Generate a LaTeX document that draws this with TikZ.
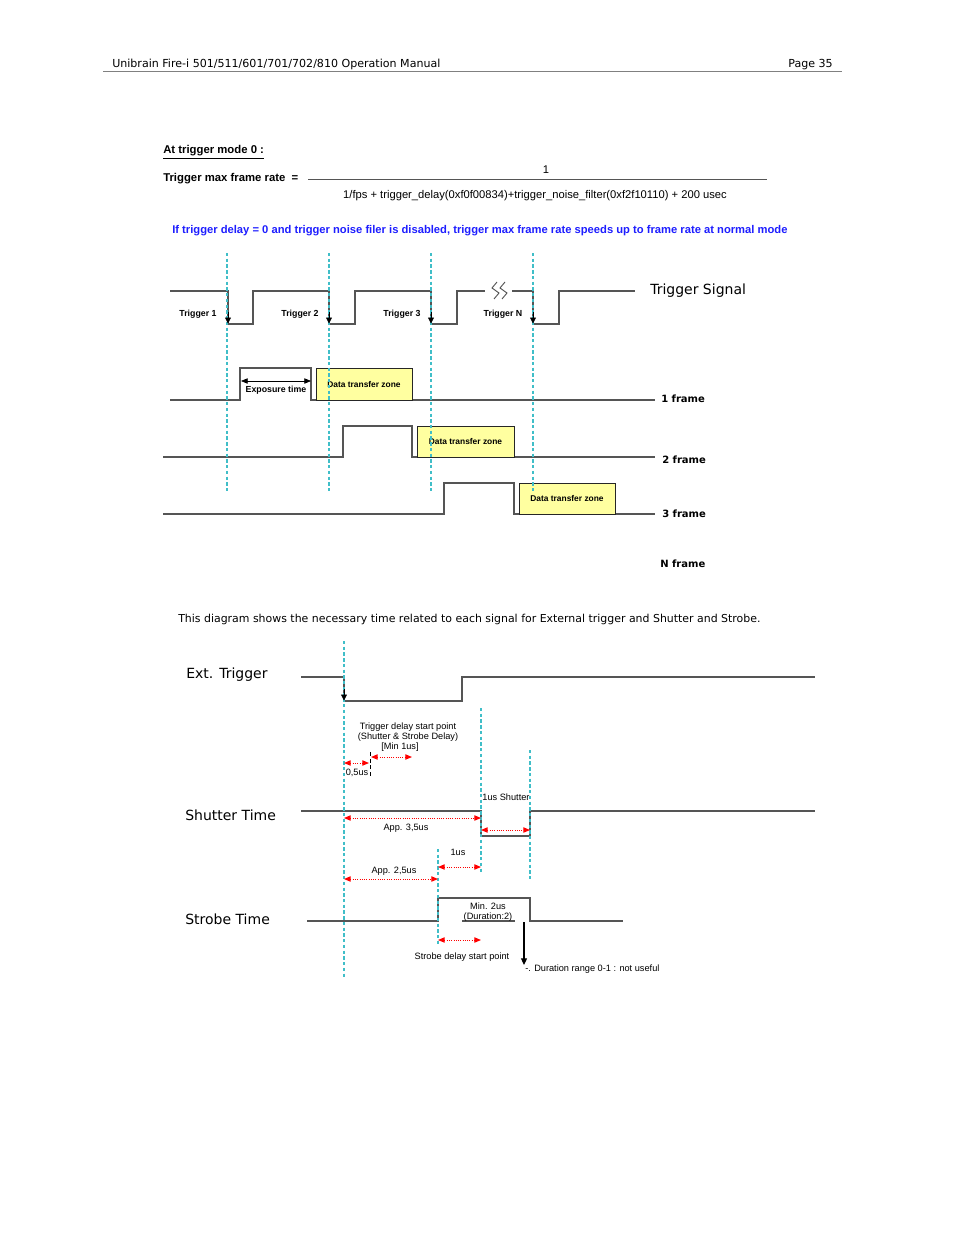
\documentclass[tikz,border=0pt]{standalone}
\usepackage{fontspec}
\setmainfont{Liberation Sans}
\newfontfamily\dvs{DejaVu Sans}
\usetikzlibrary{arrows.meta}
\definecolor{cyanD}{RGB}{64,190,200}
\definecolor{zoneY}{RGB}{255,255,160}
\definecolor{blueT}{RGB}{30,30,255}
\definecolor{sigG}{RGB}{85,85,85}
\begin{document}
\begin{tikzpicture}[x=0.75pt,y=-0.75pt,
  vdash/.style={cyanD, dash pattern=on 2.5pt off 1.8pt, line width=0.9pt},
  sig/.style={sigG, line width=0.9pt},
  tip/.style={black, line width=0.6pt, -{Triangle[width=4.5pt,length=4.5pt]}},
  redarr/.style={red, densely dotted, line width=0.7pt, {Triangle[width=4pt,length=5pt]}-{Triangle[width=4pt,length=5pt]}},
  zone/.style={draw=black!85, fill=zoneY, line width=0.6pt, inner sep=0pt, font=\fontsize{6.3}{7}\selectfont\bfseries},
  hdr/.style={inner sep=0pt, font=\dvs\fontsize{8.3}{9.6}\selectfont},
  frm/.style={inner sep=0pt, anchor=west, font=\dvs\fontsize{7.5}{8}\selectfont\bfseries},
  big/.style={inner sep=0pt, anchor=west, font=\dvs\fontsize{10.5}{12}\selectfont},
  trg/.style={inner sep=0pt, font=\fontsize{6.6}{7}\selectfont\bfseries},
  sml/.style={inner sep=0pt, font=\fontsize{6.9}{7.5}\selectfont, align=center},
  frml/.style={inner sep=0pt, font=\fontsize{8.4}{9}\selectfont}]
\useasboundingbox (0,0) rectangle (954,1235);
\fill[white] (0,0) rectangle (954,1235);

% header
\node[hdr, anchor=west] (htitle) at (112,64.5) {Unibrain Fire-i 501/511/601/701/702/810 Operation Manual};
\node[hdr, anchor=east] (hpage) at (833,64.5) {Page 35};
\draw[gray, line width=0.6pt] (103,71) -- (842,71);

% formula
\node[frml, anchor=west, font=\fontsize{8.5}{9}\selectfont\bfseries] (mode) at (163,152) {\underline{At trigger mode 0 :}};
\node[frml, anchor=west, font=\fontsize{8.5}{9}\selectfont\bfseries] (tmax) at (163,179) {Trigger max frame rate~~=};
\draw[sigG, line width=0.7pt] (308,179) -- (767,179);
\node[frml] (num) at (546,170) {1};
\node[frml] (den) at (535,196) {1/fps + trigger\_delay(0xf0f00834)+trigger\_noise\_filter(0xf2f10110) + 200 usec};
\node[inner sep=0pt, anchor=west, text=blueT, font=\fontsize{8.4}{9}\selectfont\bfseries] (note) at (172,231) {If trigger delay = 0 and trigger noise filer is disabled, trigger max frame rate speeds up to frame rate at normal mode};

% trigger signal
\draw[sig] (170,291) -- (228,291) -- (228,324) -- (253,324) -- (253,291) -- (329,291) -- (329,324) -- (355,324) -- (355,291) -- (431,291) -- (431,324) -- (457,324) -- (457,291) -- (485,291);
\draw[sig] (512,291) -- (533,291) -- (533,324) -- (559,324) -- (559,291) -- (635,291);
\draw[sigG, line width=0.7pt] (497,282) -- (492,288) -- (499,293) -- (494,299);
\draw[sigG, line width=0.7pt] (505,282) -- (500,288) -- (507,293) -- (502,299);
\node[big] (tsig) at (650,290.5) {Trigger Signal};
\node[trg] (t1) at (198,314.5) {Trigger 1};
\node[trg] (t2) at (300,314.5) {Trigger 2};
\node[trg] (t3) at (402,314.5) {Trigger 3};
\node[trg] (tn) at (503,314.5) {Trigger N};

% frames
\draw[sig] (170,400) -- (240,400) -- (240,368) -- (311,368) -- (311,400) -- (655,400);
\draw[sig] (163,457) -- (343,457) -- (343,426) -- (412,426) -- (412,457) -- (655,457);
\draw[sig] (163,514) -- (444,514) -- (444,483) -- (514,483) -- (514,514) -- (655,514);
\node[zone, minimum width=72pt, minimum height=24pt] (z1) at (364,384) {Data transfer zone};
\node[zone, minimum width=72.75pt, minimum height=23.25pt] (z2) at (465.5,441.5) {Data transfer zone};
\node[zone, minimum width=72pt, minimum height=23.25pt] (z3) at (567,498.5) {Data transfer zone};
\coordinate (e1) at (241,381);
\coordinate (e2) at (311,381);
\draw[black, line width=0.6pt, {Triangle[width=4pt,length=5pt]}-{Triangle[width=4pt,length=5pt]}] (e1) -- (e2);
\node[trg] (exp) at (276,390.5) {Exposure time};
\node[frm] (f1) at (661,398.5) {1 frame};
\node[frm] (f2) at (662,459.5) {2 frame};
\node[frm] (f3) at (662,513.5) {3 frame};
\node[frm] (fn) at (660,563.5) {N frame};

% dashed verticals (top)
\foreach \x in {227,329,431,533} \draw[vdash] (\x,253) -- (\x,493);
\foreach \x in {228,329,431,533} \draw[tip] (\x,312) -- (\x,323.5);

% caption
\node[hdr, anchor=west, font=\dvs\fontsize{8.2}{9}\selectfont] (cap) at (178,619) {This diagram shows the necessary time related to each signal for External trigger and Shutter and Strobe.};

% lower diagram
\node[big] (ext) at (186,674.5) {Ext. Trigger};
\node[big] (sht) at (185,815.5) {Shutter Time};
\node[big] (stb) at (185,919.5) {Strobe Time};

\draw[sig] (301,677) -- (344,677) -- (344,701) -- (462,701) -- (462,677) -- (815,677);
\draw[sig] (301,811) -- (481,811) -- (481,836) -- (530,836) -- (530,811) -- (815,811);
\draw[sig] (307,921) -- (438,921) -- (438,898) -- (530,898) -- (530,921) -- (623,921);
\draw[sig] (462,921) -- (515,921);

\draw[vdash] (344,641) -- (344,977);
\draw[vdash] (481,708) -- (481,872);
\draw[vdash] (530,750) -- (530,880);
\draw[vdash] (438,849) -- (438,945);
\draw[tip] (344,689) -- (344,700.5);
\draw[black, line width=0.6pt, densely dashed] (370,752) -- (370,778);

\draw[redarr] (344,763) -- (369,763);
\draw[redarr] (371,757) -- (412,757);
\draw[redarr] (344,818) -- (481,818);
\draw[redarr] (481,830) -- (530,830);
\draw[redarr] (438,867) -- (481,867);
\draw[redarr] (344,879) -- (438,879);
\draw[redarr] (438,940) -- (481,940);
\coordinate (d1) at (524,922);
\coordinate (d2) at (524,965);
\draw[black, line width=0.8pt, -{Triangle[width=4.5pt,length=5pt]}] (d1) -- (d2);

\node[sml] (tdsp) at (408,737) {Trigger delay start point\\(Shutter \& Strobe Delay)\\\hspace*{-12pt}[Min 1us]};
\node[sml] (l05) at (357,772.5) {0,5us};
\node[sml] (l1s) at (506,797.5) {1us Shutter};
\node[sml] (l35) at (406,828.5) {App. 3,5us};
\node[sml] (l1u) at (458,852.5) {1us};
\node[sml] (l25) at (394,871.5) {App. 2,5us};
\node[sml] (lmin) at (488,912.5) {Min. 2us\\(Duration:2)};
\node[sml] (lsd) at (462,957.5) {Strobe delay start point};
\node[sml, anchor=west] (ldr) at (525,969.5) {-. Duration range 0-1 : not useful};
\end{tikzpicture}
\end{document}
